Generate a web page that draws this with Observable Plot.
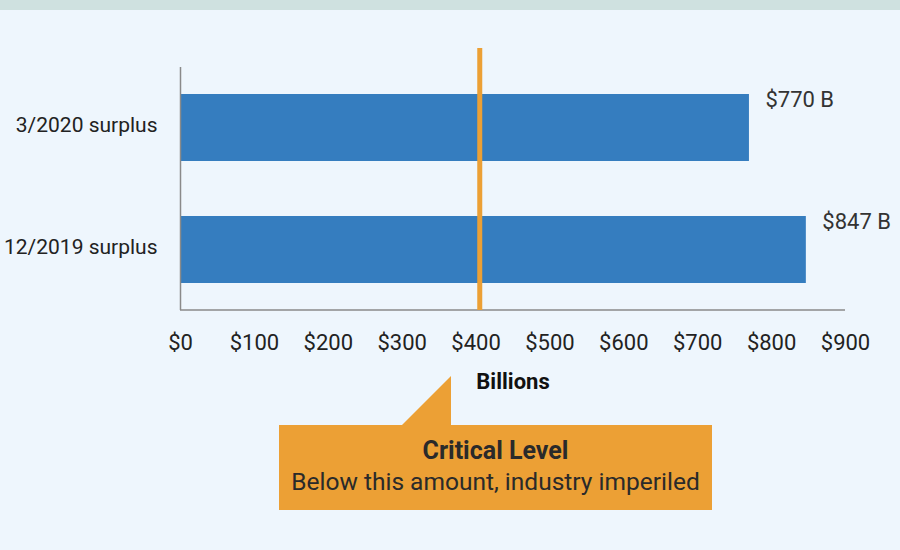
<!DOCTYPE html>
<html>
<head>
<meta charset="utf-8">
<script src="https://cdn.jsdelivr.net/npm/d3@7"></script>
<script src="https://cdn.jsdelivr.net/npm/@observablehq/plot@0.6"></script>
<style>
  html, body { margin: 0; padding: 0; }
  body { width: 900px; height: 550px; background: #eef6fd; position: relative; overflow: hidden; font-family: Roboto, "Open Sans", sans-serif; }
  #band { position: absolute; left: 0; top: 0; width: 900px; height: 10px; background: #cfe1e0; }
  #chart { position: absolute; left: 0; top: 0; }
  #callout { position: absolute; left: 279px; top: 425px; width: 433px; height: 85px; background: #eca035; text-align: center; color: #2a2a2a; }
  #callout .t1 { font-weight: 700; font-size: 25px; margin-top: 11px; line-height: 30px; }
  #callout .t2 { font-size: 24.5px; line-height: 32px; }
  #tri { position: absolute; left: 402px; top: 376px; width: 0; height: 0; border-left: 49px solid transparent; border-bottom: 49px solid #eca035; }
</style>
</head>
<body>
<div id="band"></div>
<div id="chart"></div>
<div id="tri"></div>
<div id="callout"><div class="t1">Critical Level</div><div class="t2">Below this amount, industry imperiled</div></div>
<script>
const categories = ["3/2020 surplus", "12/2019 surplus"];
const values = [770, 847];
const valueLabels = ["$770 B", "$847 B"];
const criticalLevel = 405;
const xTicks = [0, 100, 200, 300, 400, 500, 600, 700, 800, 900];
const xLabel = "Billions";

const data = categories.map((c, i) => ({category: c, value: values[i], label: valueLabels[i]}));

const chart = Plot.plot({
  width: 900,
  height: 550,
  marginTop: 48,
  marginBottom: 240,
  marginLeft: 180,
  marginRight: 55,
  style: {background: "transparent", fontFamily: "Roboto, 'Open Sans', sans-serif", color: "#222"},
  x: {domain: [0, 900], ticks: xTicks, tickFormat: d => "$" + d},
  y: {domain: categories, range: [67, 310], paddingInner: 0.45, paddingOuter: 0.213},
  marks: [
    Plot.barX(data, {x: "value", y: "category", fill: "#357dbf"}),
    Plot.ruleX([0], {stroke: "#8a8a8a", strokeWidth: 1.5, insetTop: 19}),
    (index, scales, values, dims) => {
      const ns = "http://www.w3.org/2000/svg";
      const l = document.createElementNS(ns, "line");
      l.setAttribute("x1", dims.marginLeft);
      l.setAttribute("x2", dims.width - dims.marginRight);
      l.setAttribute("y1", dims.height - dims.marginBottom);
      l.setAttribute("y2", dims.height - dims.marginBottom);
      l.setAttribute("stroke", "#8a8a8a");
      l.setAttribute("stroke-width", 1.5);
      return l;
    },
    Plot.ruleX([criticalLevel], {stroke: "#eca035", strokeWidth: 5}),
    Plot.text(data, {x: "value", y: "category", text: "label", textAnchor: "start", dx: 16, dy: -28, fontSize: 22, fill: "#333"}),
    Plot.axisX({ticks: xTicks, tickFormat: d => "$" + d, tickSize: 0, tickPadding: 24, fontSize: 22, fill: "#222", label: null}),
    Plot.axisY({tickSize: 0, tickPadding: 23, fontSize: 21, dy: -3, fill: "#222", label: null}),
    Plot.text([xLabel], {x: 450, frameAnchor: "bottom", dy: 78, text: d => d, fontSize: 22, fontWeight: "bold", fill: "#111"})
  ]
});
document.getElementById("chart").appendChild(chart);
</script>
</body>
</html>
